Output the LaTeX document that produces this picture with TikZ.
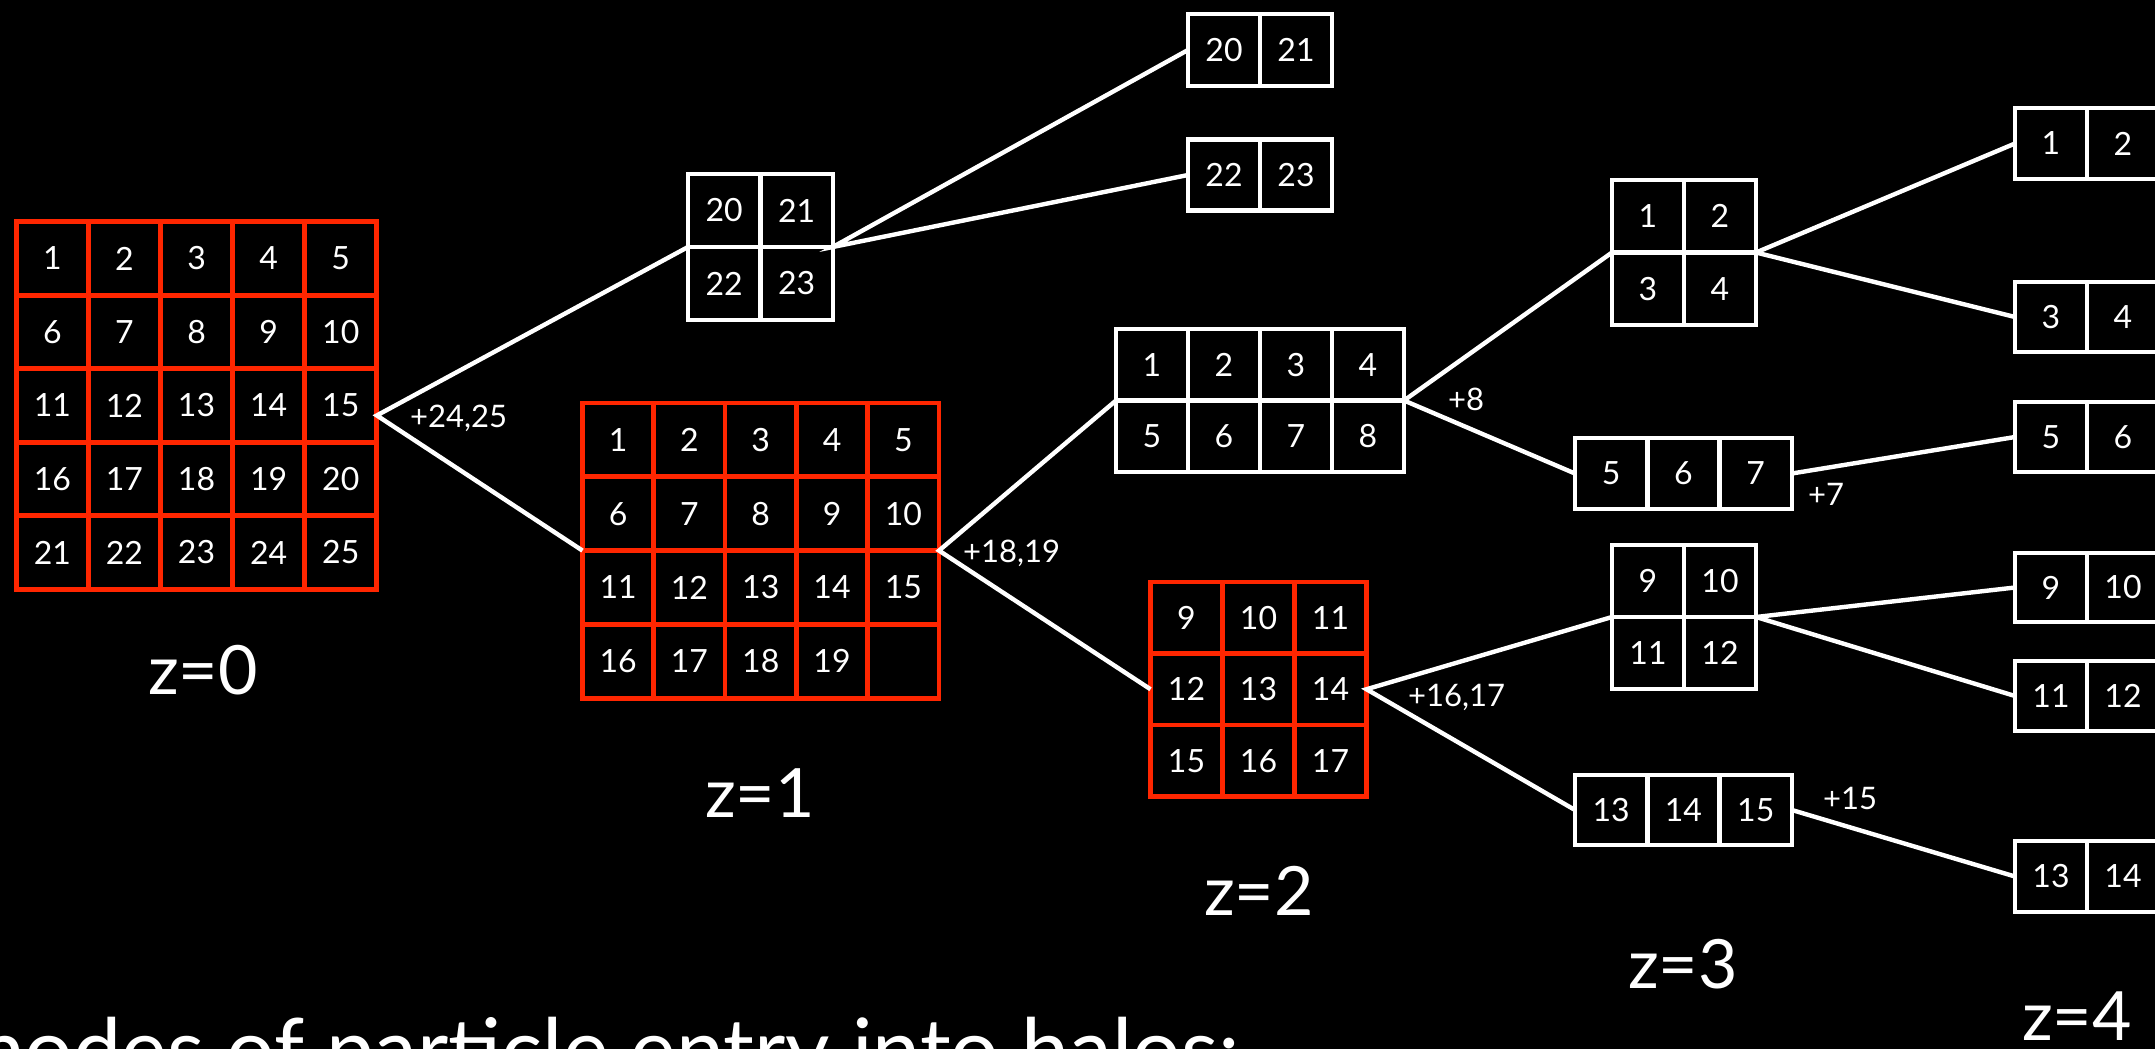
\documentclass[tikz,border=0pt]{standalone}
\usepackage{fontspec}
\setmainfont{Lato}
\usetikzlibrary{calc}
\definecolor{gridred}{RGB}{255,38,0}
% #1 name, #2 x0, #3 y0, #4 cols, #5 rows, #6 cell w, #7 cell h, #8 style, #9 labels
\newcommand\mygrid[9]{%
  \node[#8, anchor=north west, inner sep=0pt, outer sep=0pt,
        minimum width=#4*#6pt, minimum height=#5*#7pt] (#1) at (#2,#3) {};
  \foreach \i in {1,...,#4}{\ifnum\i<#4 \draw[#8] (#2+\i*#6,#3) -- (#2+\i*#6,#3+#5*#7);\fi}
  \foreach \j in {1,...,#5}{\ifnum\j<#5 \draw[#8] (#2,#3+\j*#7) -- (#2+#4*#6,#3+\j*#7);\fi}
  \foreach \t [count=\k from 0] in {#9}{%
    \pgfmathtruncatemacro\cc{mod(\k,#4)}%
    \pgfmathtruncatemacro\rr{div(\k,#4)}%
    \node[celltext] (#1-\k) at (#2+\cc*#6+0.5*#6, #3+\rr*#7+0.5*#7) {\t};}%
}
\begin{document}
\begin{tikzpicture}[x=1pt,y=-1pt,
  redbox/.style={draw=gridred, line width=4.7pt},
  whitebox/.style={draw=white, line width=4.5pt},
  celltext/.style={text=white, font=\fontsize{32}{38}\selectfont, inner sep=0pt},
  lbl/.style={text=white, font=\fontsize{31}{37}\selectfont, inner sep=0pt, anchor=base west},
  zlbl/.style={text=white, font=\fontsize{68}{80}\selectfont, inner sep=0pt},
  caplbl/.style={text=white, font=\fontsize{86}{100}\selectfont, inner sep=0pt},
  link/.style={draw=white, line width=4.4pt}]
\fill[black] (0,0) rectangle (2155,1049);
\useasboundingbox (0,0) rectangle (2155,1049);

% red grids
\mygrid{g0}{16.3}{221.7}{5}{5}{72.1}{73.5}{redbox}{1,2,3,4,5,6,7,8,9,10,11,12,13,14,15,16,17,18,19,20,21,22,23,24,25}
\mygrid{g1}{582.5}{403}{5}{4}{71.3}{73.8}{redbox}{1,2,3,4,5,6,7,8,9,10,11,12,13,14,15,16,17,18,19}
\mygrid{g2}{1150.5}{582}{3}{3}{72}{71.5}{redbox}{9,10,11,12,13,14,15,16,17}

% white boxes
\mygrid{bA}{688}{174}{2}{2}{72.4}{73}{whitebox}{20,21,22,23}
\mygrid{bB}{1188}{14}{2}{1}{72}{72}{whitebox}{20,21}
\mygrid{bC}{1188}{139.5}{2}{1}{72}{71}{whitebox}{22,23}
\mygrid{bD}{1116}{329}{4}{2}{72}{71.5}{whitebox}{1,2,3,4,5,6,7,8}
\mygrid{bE}{1612}{180}{2}{2}{72}{72.5}{whitebox}{1,2,3,4}
\mygrid{bF}{1575}{438}{3}{1}{72.3}{71}{whitebox}{5,6,7}
\mygrid{bG}{1612}{545}{2}{2}{72}{72}{whitebox}{9,10,11,12}
\mygrid{bM}{1575}{775}{3}{1}{72.3}{70}{whitebox}{13,14,15}
\mygrid{bH}{2015}{108}{2}{1}{72}{71}{whitebox}{1,2}
\mygrid{bI}{2015}{282}{2}{1}{72}{70}{whitebox}{3,4}
\mygrid{bJ}{2015}{402}{2}{1}{72}{70}{whitebox}{5,6}
\mygrid{bK}{2015}{553}{2}{1}{72}{69}{whitebox}{9,10}
\mygrid{bL}{2015}{661}{2}{1}{72}{70}{whitebox}{11,12}
\mygrid{bN}{2015}{841}{2}{1}{72}{71}{whitebox}{13,14}

% connectors
\coordinate (a0) at ($(g0.east)+(0,10)$);
\draw[link] (bA.west) -- (a0) -- (g1.west);
\draw[link] (bB.west) -- (bA.east) -- (bC.west);
\draw[link] (bD.west) -- (g1.east) -- (g2.west);
\draw[link] (bE.west) -- (bD.east) -- (bF.west);
\draw[link] (bG.west) -- (g2.east) -- (bM.west);
\draw[link] (bH.west) -- (bE.east) -- (bI.west);
\draw[link] (bF.east) -- (bJ.west);
\draw[link] (bK.west) -- (bG.east) -- (bL.west);
\draw[link] (bM.east) -- (bN.west);

% edge labels
\node[lbl] (l0) at (410,427) {+24,25};
\node[lbl] (l1) at (963,562) {+18,19};
\node[lbl] (l2) at (1448,410) {+8};
\node[lbl] (l3) at (1808,505) {+7};
\node[lbl] (l4) at (1408,706) {+16,17};
\node[lbl] (l5) at (1823,809) {+15};

% redshift labels
\node[zlbl, anchor=base] (z0) at (203,694) {z=0};
\node[zlbl, anchor=base west] (z1) at (705,817) {z=1};
\node[zlbl, anchor=base west] (z2) at (1204,915) {z=2};
\node[zlbl, anchor=base west] (z3) at (1628,988) {z=3};
\node[zlbl, anchor=base west] (z4) at (2022,1040) {z=4};

% caption (cut at the page edges, as in the reference)
\node[caplbl, anchor=base west] (cap) at (-46,1080) {modes of particle entry into halos:};
\end{tikzpicture}
\end{document}
